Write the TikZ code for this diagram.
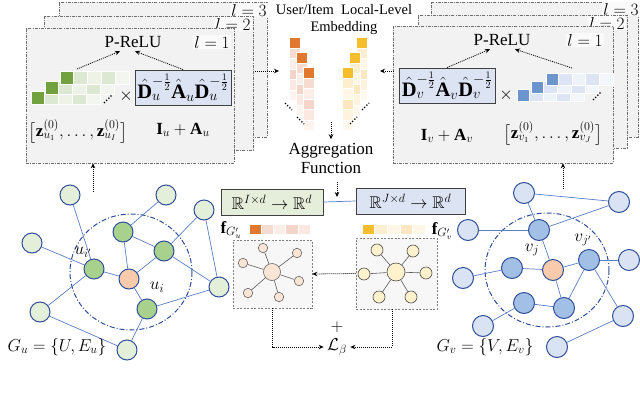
\documentclass[tikz,border=0pt]{standalone}
\usepackage{amsmath,amssymb}
\usepackage{fontspec}
\setmainfont{Liberation Serif}
\usetikzlibrary{arrows.meta}
\definecolor{panelgray}{HTML}{F2F2F2}
\definecolor{panelborder}{HTML}{6E6E6E}
\definecolor{boxblue}{HTML}{DCE4F4}
\definecolor{boxgreen}{HTML}{E4EEDA}
\definecolor{nodeborder}{HTML}{2F4F9A}
\definecolor{edgeblue}{HTML}{5B7FC6}
\definecolor{lgreen}{HTML}{E3EFD9}
\definecolor{dgreen}{HTML}{A9D18E}
\definecolor{peach}{HTML}{F8CBAD}
\definecolor{lblue}{HTML}{DAE3F3}
\definecolor{dblue}{HTML}{A2BFE6}
\definecolor{starpeach}{HTML}{FBE5D6}
\definecolor{staryellow}{HTML}{FFF2CC}
\definecolor{mgreen}{HTML}{72A140}
\definecolor{mblue}{HTML}{6C95CD}
\definecolor{morange}{HTML}{E0782F}
\definecolor{myellow}{HTML}{F6BE2C}
\definecolor{lg1}{HTML}{DDE8D2}
\definecolor{lg2}{HTML}{EEF3E8}
\definecolor{lg3}{HTML}{F2F6EE}
\definecolor{lb1}{HTML}{DDE5F4}
\definecolor{lb2}{HTML}{EEF2F9}
\definecolor{lb3}{HTML}{F3F6FB}
\definecolor{lo1}{HTML}{F5DBD0}
\definecolor{lo2}{HTML}{FBEEE8}
\definecolor{lo3}{HTML}{F3D5C9}
\definecolor{lo4}{HTML}{FAE8E1}
\definecolor{lo5}{HTML}{FDF3EF}
\definecolor{ly1}{HTML}{FDEED0}
\definecolor{ly2}{HTML}{FEF6E6}
\definecolor{ly3}{HTML}{FBE8C2}
\definecolor{ly4}{HTML}{FEF3DE}
\definecolor{ly5}{HTML}{FFF8EC}
\begin{document}
\begin{tikzpicture}[x=1pt,y=-1pt,
  every node/.style={font=\rmfamily\fontsize{17}{19}\selectfont},
  panel/.style={draw=panelborder, fill=panelgray, line width=0.6pt,
    dash pattern=on 3pt off 1.2pt on 0.8pt off 1.2pt, inner sep=0},
  lvl/.style={fill=white!60!panelgray, inner sep=1pt},
  arr/.style={line width=0.8pt, dash pattern=on 1pt off 1pt,
    -{Stealth[length=5pt,width=4.5pt]}},
  mbox/.style={draw=black!75, line width=0.9pt, inner sep=0},
  bigm/.style={font=\rmfamily\fontsize{20.5}{22}\selectfont},
  gnode/.style={circle, minimum size=20pt, inner sep=0, draw=nodeborder, line width=1pt},
  lgn/.style={gnode, fill=lgreen},
  dgn/.style={gnode, fill=dgreen},
  pn/.style={gnode, fill=peach},
  lbn/.style={gnode, fill=lblue, minimum size=21pt},
  dbn/.style={gnode, fill=dblue, minimum size=21pt},
  edge/.style={draw=edgeblue, line width=0.7pt},
  hood/.style={draw=nodeborder, line width=1pt, dash pattern=on 5pt off 2pt on 1pt off 2pt},
  sbox/.style={draw=gray, fill=gray!6, dash pattern=on 2pt off 1.5pt, line width=0.6pt, inner sep=0},
  sedge/.style={draw=gray!70!black, line width=0.6pt},
  lsn/.style={circle, inner sep=0, draw=gray!80!black, line width=0.6pt, fill=starpeach},
  rsn/.style={circle, inner sep=0, draw=black!70, line width=0.6pt, fill=staryellow},
  dots/.style={line width=1.3pt, dash pattern=on 1.3pt off 1.8pt}
]
\useasboundingbox[fill=white] (0,0) rectangle (640,394);

% ---------------- left panel stack ----------------
\node[panel, minimum width=208pt, minimum height=135pt] (pl3) at (163,69.5) {};
\node[lvl] (ll3) at (249,10) {$l=3$};
\node[panel, minimum width=209pt, minimum height=134pt] (pl2) at (148.5,83) {};
\node[lvl] (ll2) at (233,24) {$l=2$};
\node[panel, minimum width=208pt, minimum height=135pt] (pl1) at (130,95.5) {};
\node[lvl] (ll1) at (212,42) {$l=1$};
\node (prl) at (133,42) {P-ReLU};

\foreach \r in {2,1,0} {
  \pgfmathsetmacro\xo{60-14.5*\r}
  \pgfmathsetmacro\yo{71+10*\r}
  \filldraw[fill=mgreen, draw=white, line width=0.4pt] (\xo,\yo) rectangle ++(13,13);
  \foreach \k/\col in {0/lg1,1/lg2,2/lg1,3/lg3} {
    \filldraw[fill=\col, draw=white, line width=0.4pt] (\xo+13+14*\k,\yo) rectangle ++(14,13);
  }
}
\draw[dots] (104,103) -- (112,95);
\coordinate (gm) at (77,69);
\node (tl) at (126,96) {$\times$};
\node[mbox, bigm, fill=boxblue, minimum width=96pt, minimum height=35pt] (du) at (183,87.5)
  {$\hat{\mathbf D}_u^{-\frac12}\hat{\mathbf A}_u\hat{\mathbf D}_u^{-\frac12}$};
\draw[arr] (gm) -- ([xshift=-13pt]prl.south);
\draw[arr] (du.north) -- ([xshift=2pt]prl.south);
\node (zu) at (78,131) {$\bigl[\mathbf z^{(0)}_{u_1},\ldots,\mathbf z^{(0)}_{u_I}\bigr]$};
\node (iu) at (183,130) {$\mathbf I_u+\mathbf A_u$};

% ---------------- right panel stack ----------------
\node[panel, minimum width=207pt, minimum height=135pt] (pr3) at (534.5,69.5) {};
\node[lvl] (lr3) at (621,9) {$l=3$};
\node[panel, minimum width=209pt, minimum height=133pt] (pr2) at (522.5,81.5) {};
\node[lvl] (lr2) at (607,23) {$l=2$};
\node[panel, minimum width=220pt, minimum height=137pt] (pr1) at (503,94.5) {};
\node[lvl] (lr1) at (585,40) {$l=1$};
\node (prr) at (502,40) {P-ReLU};

\foreach \r in {2,1,0} {
  \pgfmathsetmacro\xo{546-14.5*\r}
  \pgfmathsetmacro\yo{73+8*\r}
  \filldraw[fill=mblue, draw=white, line width=0.4pt] (\xo,\yo) rectangle ++(12,12);
  \foreach \k/\col in {0/lb1,1/lb2,2/lb1,3/lb3} {
    \filldraw[fill=\col, draw=white, line width=0.4pt] (\xo+12+13.75*\k,\yo) rectangle ++(13.75,12);
  }
}
\draw[dots] (593,100) -- (601,92);
\coordinate (bm) at (572,68);
\node (tr) at (506,95) {$\times$};
\node[mbox, bigm, fill=boxblue, minimum width=96pt, minimum height=35pt] (dv) at (447,85.5)
  {$\hat{\mathbf D}_v^{-\frac12}\hat{\mathbf A}_v\hat{\mathbf D}_v^{-\frac12}$};
\draw[arr] (dv.north) -- ([xshift=-12pt]prr.south);
\draw[arr] (bm) -- ([xshift=13pt]prr.south);
\node (iv) at (447,136) {$\mathbf I_v+\mathbf A_v$};
\node (zv) at (553,133) {$\bigl[\mathbf z^{(0)}_{v_1},\ldots,\mathbf z^{(0)}_{v_J}\bigr]$};

% ---------------- embeddings ----------------
\node[align=center, font=\rmfamily\fontsize{14.5}{17}\selectfont] (emb) at (344,20) {User/Item\ \ Local-Level\\Embedding};
\foreach \c in {0,1,2} {
  \pgfmathsetmacro\xo{289+7*\c}
  \pgfmathsetmacro\yo{37+15*\c}
  \filldraw[fill=morange, draw=white, line width=0.4pt] (\xo,\yo) rectangle ++(11,11);
  \foreach \k/\col in {0/lo1,1/lo2,2/lo3,3/lo4,4/lo5} {
    \filldraw[fill=\col, draw=white, line width=0.4pt] (\xo,\yo+11+10.5*\k) rectangle ++(11,10.5);
  }
}
\foreach \c in {0,1,2} {
  \pgfmathsetmacro\xo{356-7*\c}
  \pgfmathsetmacro\yo{37+15*\c}
  \filldraw[fill=myellow, draw=white, line width=0.4pt] (\xo,\yo) rectangle ++(11,11);
  \foreach \k/\col in {0/ly1,1/ly2,2/ly3,3/ly4,4/ly5} {
    \filldraw[fill=\col, draw=white, line width=0.4pt] (\xo,\yo+11+10.5*\k) rectangle ++(11,10.5);
  }
}
\draw[dots] (285,103) -- (292,110);
\draw[dots] (297,117) -- (304,124);
\draw[dots] (362,110) -- (369,103);
\draw[dots] (350,124) -- (357,117);
\coordinate (ela) at (255,71);
\coordinate (elb) at (279,71);
\coordinate (era) at (394,71);
\coordinate (erb) at (380,71);
\draw[arr] (ela) -- (elb);
\draw[arr] (era) -- (erb);
\coordinate (aga) at (331,122);
\node[align=center] (agg) at (331,158) {Aggregation\\Function};
\draw[arr] (aga) -- (agg.north);

% ---------------- readout boxes ----------------
\node[mbox, fill=boxgreen, minimum width=102pt, minimum height=26pt] (rg) at (272,202)
  {$\mathbb R^{I\times d}\rightarrow\mathbb R^{d}$};
\node[mbox, fill=boxblue, minimum width=109pt, minimum height=26pt] (rb) at (410.5,201)
  {$\mathbb R^{J\times d}\rightarrow\mathbb R^{d}$};
\draw[edge] (rg.east) -- (rb.west);
\coordinate (agb) at (337,182);
\coordinate (agc) at (337,197);
\draw[arr] (agb) -- (agc);

\node (fu) at (231,230) {$\mathbf f_{G'_u}$};
\foreach \k/\col in {0/morange,1/lo1,2/lo2,3/lo3,4/lo4} {
  \filldraw[fill=\col, draw=white, line width=0.4pt] (249+12.2*\k,224) rectangle ++(12.2,10);
}
\foreach \k/\col in {0/myellow,1/ly1,2/ly2,3/ly3,4/ly2} {
  \filldraw[fill=\col, draw=white, line width=0.4pt] (362+12.6*\k,224) rectangle ++(12.6,10);
}
\node (fv) at (442,231) {$\mathbf f_{G'_v}$};

% ---------------- star graphs ----------------
\node[sbox, minimum width=79pt, minimum height=68pt] (lbox) at (272.5,274) {};
\node[sbox, minimum width=81pt, minimum height=71pt] (rbox) at (396.5,273.5) {};
\node[lsn, minimum size=17pt] (lc) at (272,272) {};
\foreach \n/\p in {1/{(263,248)},2/{(297,253)},3/{(243,263)},4/{(299,281)},5/{(279,297)},6/{(248,293)}} {
  \node[lsn, minimum size=9.5pt] (ls\n) at \p {};
  \draw[sedge] (lc) -- (ls\n);
}
\node[rsn, minimum size=18pt] (rc) at (396,272) {};
\foreach \n/\p in {1/{(377,250)},2/{(413,251)},3/{(364,274)},4/{(426,273)},5/{(379,297)},6/{(411,297)}} {
  \node[rsn, minimum size=12pt] (rs\n) at \p {};
  \draw[sedge] (rc) -- (rs\n);
}
\draw[arr] (rbox.west) -- (lbox.east);
\node (plus) at (337,327) {$+$};
\node (lb) at (337,347) {$\mathcal L_{\beta}$};
\draw[arr] (lbox.south) |- (lb.west);
\draw[arr] ([xshift=-4pt]rbox.south) |- (lb.east);

% ---------------- user graph ----------------
\draw[hood] (131,272) ellipse [x radius=61, y radius=58];
\node[lgn] (a1) at (70,195) {};
\node[lgn] (a2) at (166,195) {};
\node[lgn] (a3) at (204,210) {};
\node[lgn] (a4) at (32,243) {};
\node[dgn] (g1) at (123,232) {};
\node[dgn] (g2) at (164,251) {};
\node[dgn] (g3) at (94,269) {};
\node[pn]  (ui) at (129,279) {};
\node[lgn] (a5) at (219,287) {};
\node[lgn] (a6) at (40,312) {};
\node[dgn] (g4) at (147,309) {};
\node[lgn] (a7) at (127,350) {};
\foreach \s/\t in {a1/g3,a2/g1,g1/ui,g1/g2,a3/g2,a3/a5,g2/ui,g2/a5,a4/g3,g3/ui,g3/a6,ui/g4,g4/a5,g4/a7,a6/a7}
  \draw[edge] (\s) -- (\t);
\node (lui2) at (83,252) {$u_{i'}$};
\node (lui) at (157,287) {$u_i$};
\node (gu) at (57,347) {$G_u=\{U,E_u\}$};
\coordinate (gua) at (93,192);
\draw[arr] (gua) -- (gua |- pl1.south);

% ---------------- item graph ----------------
\draw[hood] (547,270) ellipse [x radius=62, y radius=57];
\node[lbn] (b1) at (524,193) {};
\node[lbn] (b2) at (619,202) {};
\node[lbn] (b3) at (468,230) {};
\node[dbn] (c1) at (539,230) {};
\node[dbn] (c2) at (512,268) {};
\node[pn, minimum size=21pt] (vj) at (553,270) {};
\node[dbn] (c3) at (589,260) {};
\node[lbn] (b4) at (629,260) {};
\node[lbn] (b5) at (463,278) {};
\node[dbn] (c4) at (524,303) {};
\node[dbn] (c5) at (564,308) {};
\node[lbn] (b6) at (623,316) {};
\node[lbn] (b7) at (483,326) {};
\node[lbn] (b8) at (557,347) {};
\foreach \s/\t in {b1/b2,b1/c1,c1/b2,b3/c1,c1/vj,c2/vj,c2/b5,vj/c3,c3/b4,vj/c5,c3/c5,c3/b6,c4/c5,c4/b7,b8/b6}
  \draw[edge] (\s) -- (\t);
\node (lvj) at (532,250) {$v_j$};
\node (lvj2) at (583,240) {$v_{j'}$};
\node (gv) at (485,347) {$G_v=\{V,E_v\}$};
\coordinate (gva) at (563,189);
\draw[arr] (gva) -- (gva |- pr1.south);
\end{tikzpicture}
\end{document}
